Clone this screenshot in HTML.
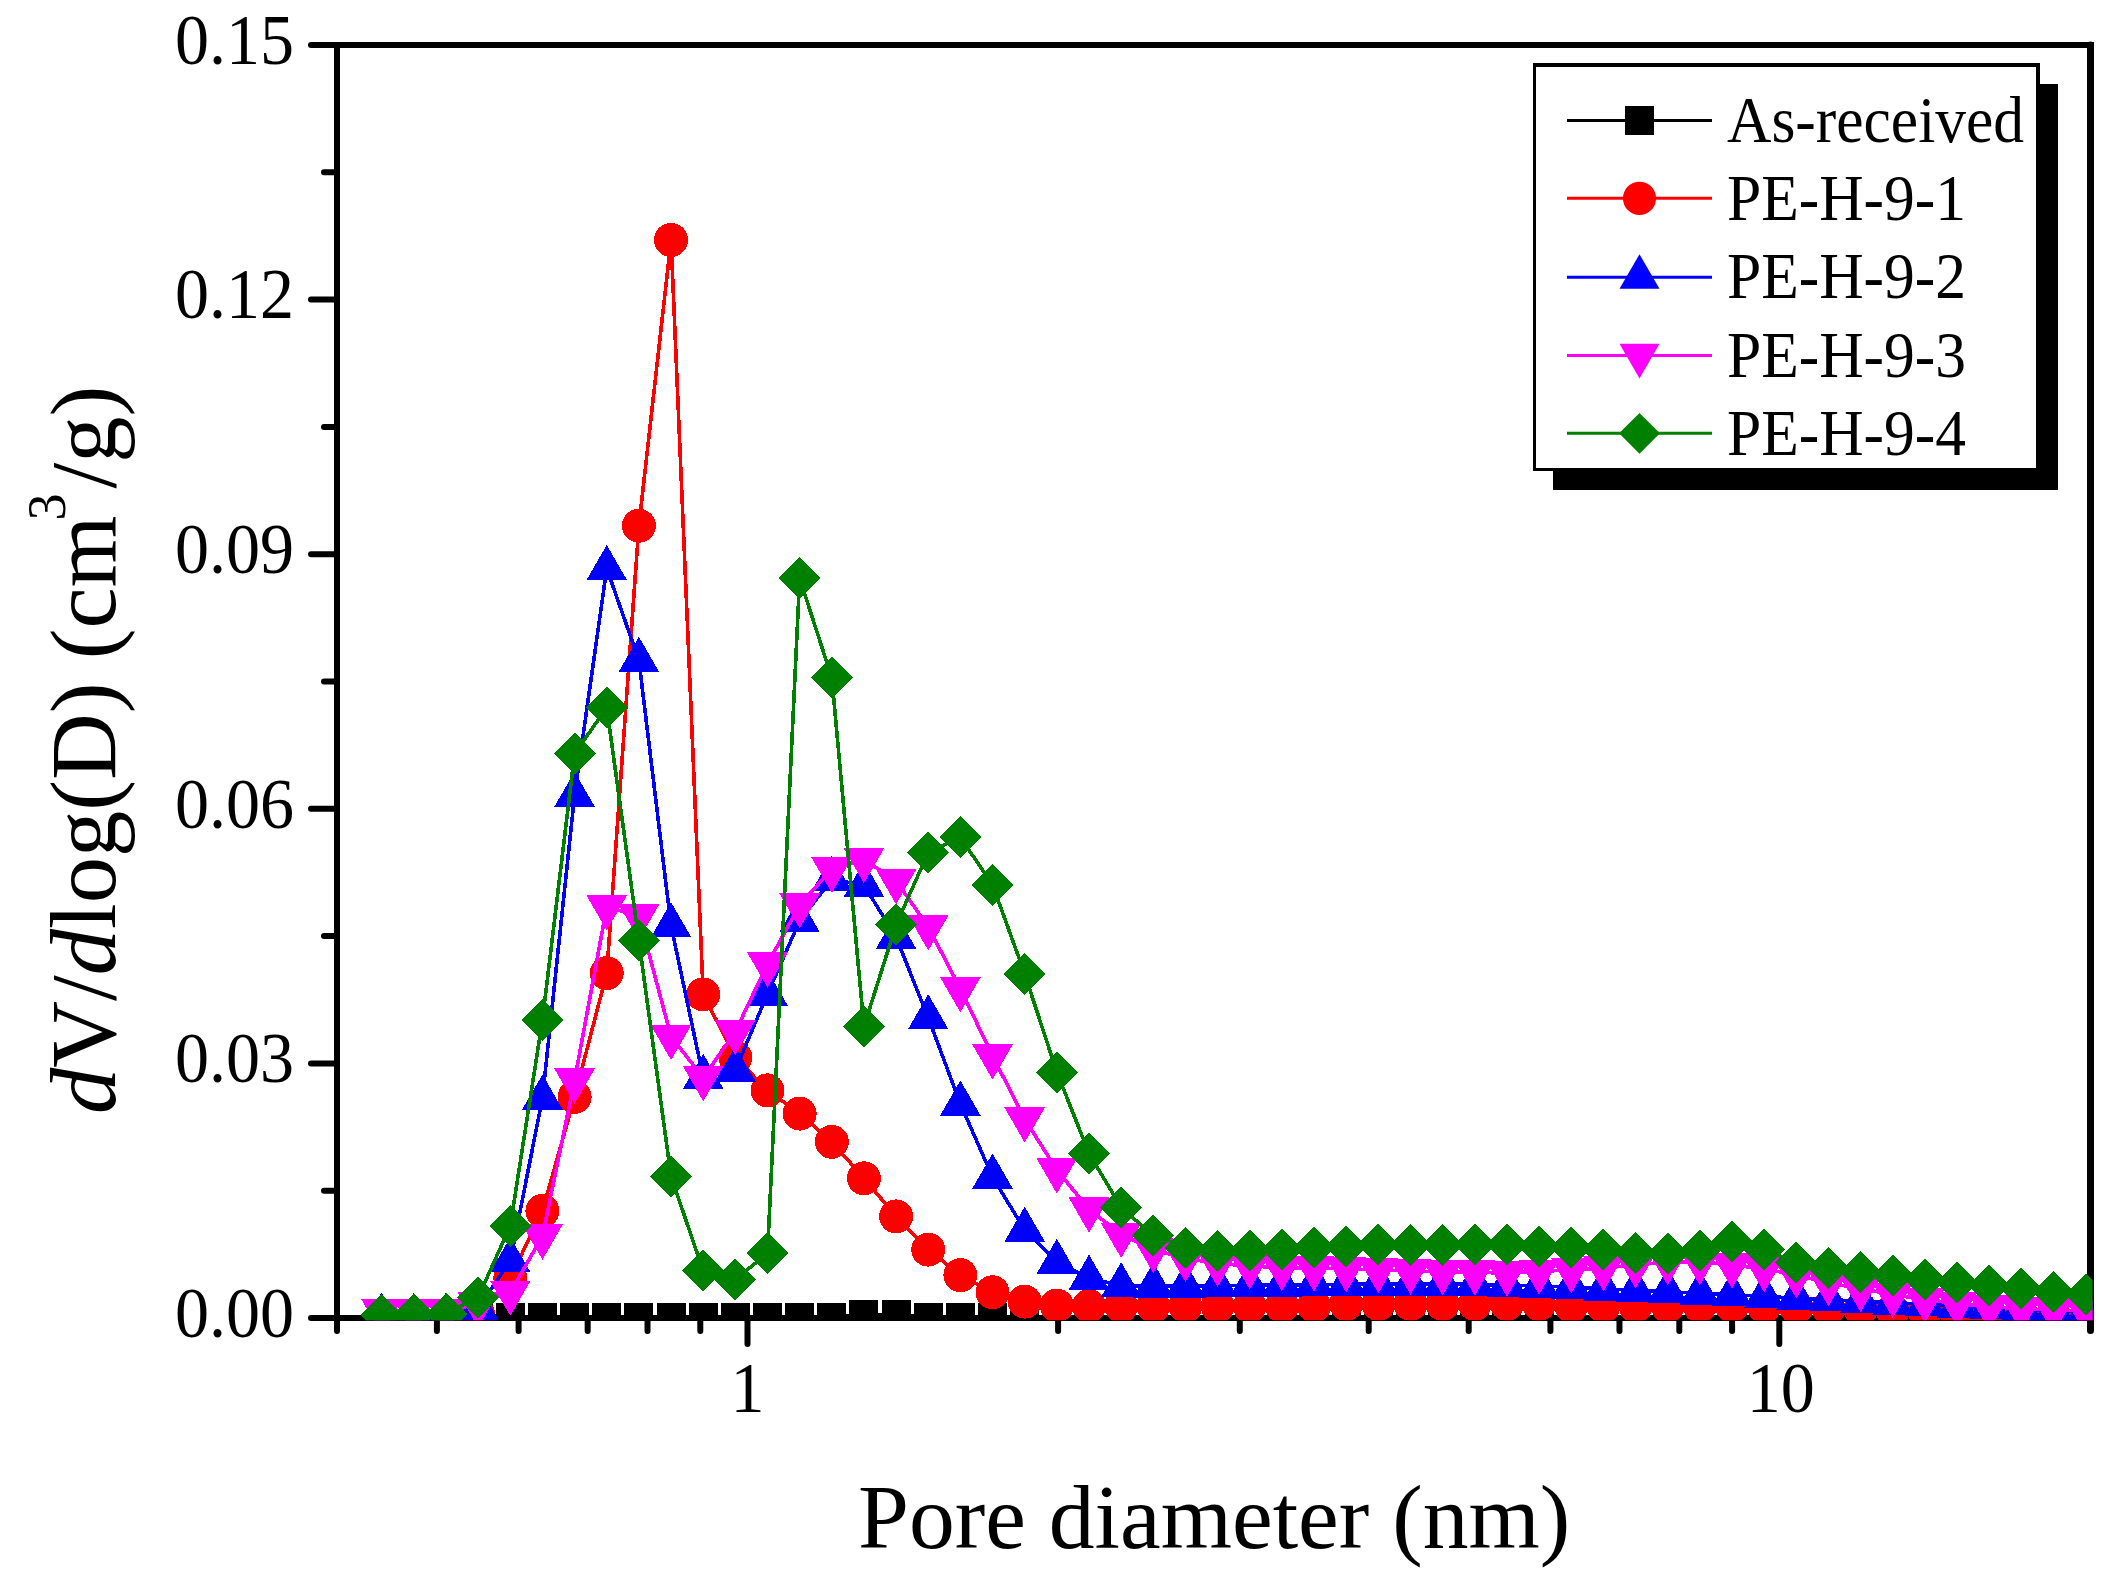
<!DOCTYPE html>
<html lang="en"><head><meta charset="utf-8"><title>Pore size distribution</title>
<style>html,body{margin:0;padding:0;background:#fff}body{width:2124px;height:1588px;overflow:hidden}svg{display:block}text{font-family:"Liberation Serif",serif;fill:#000}</style></head><body>
<svg width="2124" height="1588" viewBox="0 0 2124 1588">
<rect x="0" y="0" width="2124" height="1588" fill="#fff"/>
<g stroke="#000" stroke-width="6" stroke-linecap="round" fill="none">
<line x1="337" y1="45" x2="337" y2="1331"/>
<line x1="2090.5" y1="45" x2="2090.5" y2="1330.5" stroke-width="7"/>
<rect x="2087" y="42" width="7" height="6" fill="#000" stroke="none"/>
<line x1="311" y1="45" x2="2090.5" y2="45"/>
<line x1="311" y1="1318" x2="2090.5" y2="1318"/>
<line x1="324" y1="1190.7" x2="337" y2="1190.7"/>
<line x1="311" y1="1063.4" x2="337" y2="1063.4"/>
<line x1="324" y1="936.1" x2="337" y2="936.1"/>
<line x1="311" y1="808.8" x2="337" y2="808.8"/>
<line x1="324" y1="681.5" x2="337" y2="681.5"/>
<line x1="311" y1="554.2" x2="337" y2="554.2"/>
<line x1="324" y1="426.9" x2="337" y2="426.9"/>
<line x1="311" y1="299.6" x2="337" y2="299.6"/>
<line x1="324" y1="172.3" x2="337" y2="172.3"/>
<line x1="436.9" y1="1318" x2="436.9" y2="1331"/>
<line x1="518.6" y1="1318" x2="518.6" y2="1331"/>
<line x1="587.67" y1="1318" x2="587.67" y2="1331"/>
<line x1="647.51" y1="1318" x2="647.51" y2="1331"/>
<line x1="700.29" y1="1318" x2="700.29" y2="1331"/>
<line x1="1058.1" y1="1318" x2="1058.1" y2="1331"/>
<line x1="1239.79" y1="1318" x2="1239.79" y2="1331"/>
<line x1="1368.71" y1="1318" x2="1368.71" y2="1331"/>
<line x1="1468.7" y1="1318" x2="1468.7" y2="1331"/>
<line x1="1550.4" y1="1318" x2="1550.4" y2="1331"/>
<line x1="1619.47" y1="1318" x2="1619.47" y2="1331"/>
<line x1="1679.31" y1="1318" x2="1679.31" y2="1331"/>
<line x1="1732.09" y1="1318" x2="1732.09" y2="1331"/>
<line x1="747.5" y1="1318" x2="747.5" y2="1344"/>
<line x1="1779.3" y1="1318" x2="1779.3" y2="1344"/>
</g>
<g font-size="72.4" text-anchor="end">
<text transform="translate(294,1336.8) scale(0.94,1)">0.00</text>
<text transform="translate(294,1082.2) scale(0.94,1)">0.03</text>
<text transform="translate(294,827.6) scale(0.94,1)">0.06</text>
<text transform="translate(294,573) scale(0.94,1)">0.09</text>
<text transform="translate(294,318.4) scale(0.94,1)">0.12</text>
<text transform="translate(294,63.8) scale(0.94,1)">0.15</text>
</g>
<g font-size="72.4" text-anchor="middle">
<text transform="translate(747.5,1412) scale(0.94,1)">1</text>
<text transform="translate(1780.8,1412) scale(0.94,1)">10</text>
</g>
<text transform="translate(858,1547.5) scale(1.018,1)" font-size="90">Pore diameter (nm)</text>
<text transform="translate(115,1114) rotate(-90)" font-size="92.5"><tspan font-style="italic">d</tspan>V/<tspan font-style="italic">d</tspan>log(D) (cm<tspan font-size="54" dx="-5" dy="-50">3</tspan><tspan dx="5" dy="50">/g)</tspan></text>
<clipPath id="pc"><rect x="334" y="42" width="1758.5" height="1278.3"/></clipPath>
<g clip-path="url(#pc)" shape-rendering="crispEdges">
<polyline points="381.7,1317.5 413.85,1317.5 446,1317.5 478.15,1317.5 510.3,1317.5 542.45,1317.5 574.6,1317.5 606.75,1317.5 638.9,1317.5 671.05,1317.5 703.2,1317.5 735.35,1317.5 767.5,1317.5 799.65,1317.5 831.8,1317.5 863.95,1314.5 896.1,1314.5 928.25,1317.5 960.4,1317.5 992.55,1317.5 1024.7,1317.5 1056.85,1317.5 1089,1317.5 1121.15,1317.5 1153.3,1317.5 1185.45,1317.5 1217.6,1317.5 1249.75,1317.5 1281.9,1317.5 1314.05,1317.5 1346.2,1317.5 1378.35,1317.5 1410.5,1317.5 1442.65,1317.5 1474.8,1317.5 1506.95,1317.5 1539.1,1317.5 1571.25,1317.5 1603.4,1317.5 1635.55,1317.5 1667.7,1317.5 1699.85,1317.5 1732,1317.5 1764.15,1317.5 1796.3,1317.5 1828.45,1317.5 1860.6,1317.5 1892.75,1317.5 1924.9,1317.5 1957.05,1317.5 1989.2,1317.5 2021.35,1317.5 2053.5,1317.5 2085.65,1317.5" fill="none" stroke="#000000" stroke-width="3.6" stroke-linejoin="round"/>
<rect x="367.2" y="1303" width="29" height="29" fill="#000000"/>
<rect x="399.35" y="1303" width="29" height="29" fill="#000000"/>
<rect x="431.5" y="1303" width="29" height="29" fill="#000000"/>
<rect x="463.65" y="1303" width="29" height="29" fill="#000000"/>
<rect x="495.8" y="1303" width="29" height="29" fill="#000000"/>
<rect x="527.95" y="1303" width="29" height="29" fill="#000000"/>
<rect x="560.1" y="1303" width="29" height="29" fill="#000000"/>
<rect x="592.25" y="1303" width="29" height="29" fill="#000000"/>
<rect x="624.4" y="1303" width="29" height="29" fill="#000000"/>
<rect x="656.55" y="1303" width="29" height="29" fill="#000000"/>
<rect x="688.7" y="1303" width="29" height="29" fill="#000000"/>
<rect x="720.85" y="1303" width="29" height="29" fill="#000000"/>
<rect x="753" y="1303" width="29" height="29" fill="#000000"/>
<rect x="785.15" y="1303" width="29" height="29" fill="#000000"/>
<rect x="817.3" y="1303" width="29" height="29" fill="#000000"/>
<rect x="849.45" y="1300" width="29" height="29" fill="#000000"/>
<rect x="881.6" y="1300" width="29" height="29" fill="#000000"/>
<rect x="913.75" y="1303" width="29" height="29" fill="#000000"/>
<rect x="945.9" y="1303" width="29" height="29" fill="#000000"/>
<rect x="978.05" y="1303" width="29" height="29" fill="#000000"/>
<rect x="1010.2" y="1303" width="29" height="29" fill="#000000"/>
<rect x="1042.35" y="1303" width="29" height="29" fill="#000000"/>
<rect x="1074.5" y="1303" width="29" height="29" fill="#000000"/>
<rect x="1106.65" y="1303" width="29" height="29" fill="#000000"/>
<rect x="1138.8" y="1303" width="29" height="29" fill="#000000"/>
<rect x="1170.95" y="1303" width="29" height="29" fill="#000000"/>
<rect x="1203.1" y="1303" width="29" height="29" fill="#000000"/>
<rect x="1235.25" y="1303" width="29" height="29" fill="#000000"/>
<rect x="1267.4" y="1303" width="29" height="29" fill="#000000"/>
<rect x="1299.55" y="1303" width="29" height="29" fill="#000000"/>
<rect x="1331.7" y="1303" width="29" height="29" fill="#000000"/>
<rect x="1363.85" y="1303" width="29" height="29" fill="#000000"/>
<rect x="1396" y="1303" width="29" height="29" fill="#000000"/>
<rect x="1428.15" y="1303" width="29" height="29" fill="#000000"/>
<rect x="1460.3" y="1303" width="29" height="29" fill="#000000"/>
<rect x="1492.45" y="1303" width="29" height="29" fill="#000000"/>
<rect x="1524.6" y="1303" width="29" height="29" fill="#000000"/>
<rect x="1556.75" y="1303" width="29" height="29" fill="#000000"/>
<rect x="1588.9" y="1303" width="29" height="29" fill="#000000"/>
<rect x="1621.05" y="1303" width="29" height="29" fill="#000000"/>
<rect x="1653.2" y="1303" width="29" height="29" fill="#000000"/>
<rect x="1685.35" y="1303" width="29" height="29" fill="#000000"/>
<rect x="1717.5" y="1303" width="29" height="29" fill="#000000"/>
<rect x="1749.65" y="1303" width="29" height="29" fill="#000000"/>
<rect x="1781.8" y="1303" width="29" height="29" fill="#000000"/>
<rect x="1813.95" y="1303" width="29" height="29" fill="#000000"/>
<rect x="1846.1" y="1303" width="29" height="29" fill="#000000"/>
<rect x="1878.25" y="1303" width="29" height="29" fill="#000000"/>
<rect x="1910.4" y="1303" width="29" height="29" fill="#000000"/>
<rect x="1942.55" y="1303" width="29" height="29" fill="#000000"/>
<rect x="1974.7" y="1303" width="29" height="29" fill="#000000"/>
<rect x="2006.85" y="1303" width="29" height="29" fill="#000000"/>
<rect x="2039" y="1303" width="29" height="29" fill="#000000"/>
<rect x="2071.15" y="1303" width="29" height="29" fill="#000000"/>
<polyline points="381.7,1316 413.85,1316 446,1316 478.15,1314 510.3,1278 542.45,1210.9 574.6,1096.8 606.75,973.2 638.9,525.7 671.05,239.9 703.2,994.4 735.35,1057.4 767.5,1090.4 799.65,1113.6 831.8,1141.8 863.95,1178.3 896.1,1216.4 928.25,1249.6 960.4,1275.2 992.55,1292.3 1024.7,1301.6 1056.85,1305.5 1089,1306 1121.15,1306 1153.3,1306 1185.45,1306 1217.6,1306 1249.75,1306 1281.9,1306 1314.05,1306 1346.2,1304 1378.35,1304 1410.5,1304 1442.65,1304 1474.8,1304 1506.95,1304 1539.1,1304 1571.25,1306 1603.4,1306 1635.55,1306 1667.7,1306 1699.85,1306 1732,1306 1764.15,1306.5 1796.3,1307.3 1828.45,1308.3 1860.6,1309.5 1892.75,1310.8 1924.9,1311.9 1957.05,1312.7 1989.2,1313.8 2021.35,1315 2053.5,1316 2085.65,1317" fill="none" stroke="#ff0000" stroke-width="3.6" stroke-linejoin="round"/>
<circle cx="381.7" cy="1316" r="17" fill="#ff0000"/>
<circle cx="413.85" cy="1316" r="17" fill="#ff0000"/>
<circle cx="446" cy="1316" r="17" fill="#ff0000"/>
<circle cx="478.15" cy="1314" r="17" fill="#ff0000"/>
<circle cx="510.3" cy="1278" r="17" fill="#ff0000"/>
<circle cx="542.45" cy="1210.9" r="17" fill="#ff0000"/>
<circle cx="574.6" cy="1096.8" r="17" fill="#ff0000"/>
<circle cx="606.75" cy="973.2" r="17" fill="#ff0000"/>
<circle cx="638.9" cy="525.7" r="17" fill="#ff0000"/>
<circle cx="671.05" cy="239.9" r="17" fill="#ff0000"/>
<circle cx="703.2" cy="994.4" r="17" fill="#ff0000"/>
<circle cx="735.35" cy="1057.4" r="17" fill="#ff0000"/>
<circle cx="767.5" cy="1090.4" r="17" fill="#ff0000"/>
<circle cx="799.65" cy="1113.6" r="17" fill="#ff0000"/>
<circle cx="831.8" cy="1141.8" r="17" fill="#ff0000"/>
<circle cx="863.95" cy="1178.3" r="17" fill="#ff0000"/>
<circle cx="896.1" cy="1216.4" r="17" fill="#ff0000"/>
<circle cx="928.25" cy="1249.6" r="17" fill="#ff0000"/>
<circle cx="960.4" cy="1275.2" r="17" fill="#ff0000"/>
<circle cx="992.55" cy="1292.3" r="17" fill="#ff0000"/>
<circle cx="1024.7" cy="1301.6" r="17" fill="#ff0000"/>
<circle cx="1056.85" cy="1305.5" r="17" fill="#ff0000"/>
<circle cx="1089" cy="1306" r="17" fill="#ff0000"/>
<circle cx="1121.15" cy="1306" r="17" fill="#ff0000"/>
<circle cx="1153.3" cy="1306" r="17" fill="#ff0000"/>
<circle cx="1185.45" cy="1306" r="17" fill="#ff0000"/>
<circle cx="1217.6" cy="1306" r="17" fill="#ff0000"/>
<circle cx="1249.75" cy="1306" r="17" fill="#ff0000"/>
<circle cx="1281.9" cy="1306" r="17" fill="#ff0000"/>
<circle cx="1314.05" cy="1306" r="17" fill="#ff0000"/>
<circle cx="1346.2" cy="1304" r="17" fill="#ff0000"/>
<circle cx="1378.35" cy="1304" r="17" fill="#ff0000"/>
<circle cx="1410.5" cy="1304" r="17" fill="#ff0000"/>
<circle cx="1442.65" cy="1304" r="17" fill="#ff0000"/>
<circle cx="1474.8" cy="1304" r="17" fill="#ff0000"/>
<circle cx="1506.95" cy="1304" r="17" fill="#ff0000"/>
<circle cx="1539.1" cy="1304" r="17" fill="#ff0000"/>
<circle cx="1571.25" cy="1306" r="17" fill="#ff0000"/>
<circle cx="1603.4" cy="1306" r="17" fill="#ff0000"/>
<circle cx="1635.55" cy="1306" r="17" fill="#ff0000"/>
<circle cx="1667.7" cy="1306" r="17" fill="#ff0000"/>
<circle cx="1699.85" cy="1306" r="17" fill="#ff0000"/>
<circle cx="1732" cy="1306" r="17" fill="#ff0000"/>
<circle cx="1764.15" cy="1306.5" r="17" fill="#ff0000"/>
<circle cx="1796.3" cy="1307.3" r="17" fill="#ff0000"/>
<circle cx="1828.45" cy="1308.3" r="17" fill="#ff0000"/>
<circle cx="1860.6" cy="1309.5" r="17" fill="#ff0000"/>
<circle cx="1892.75" cy="1310.8" r="17" fill="#ff0000"/>
<circle cx="1924.9" cy="1311.9" r="17" fill="#ff0000"/>
<circle cx="1957.05" cy="1312.7" r="17" fill="#ff0000"/>
<circle cx="1989.2" cy="1313.8" r="17" fill="#ff0000"/>
<circle cx="2021.35" cy="1315" r="17" fill="#ff0000"/>
<circle cx="2053.5" cy="1316" r="17" fill="#ff0000"/>
<circle cx="2085.65" cy="1317" r="17" fill="#ff0000"/>
<polyline points="381.7,1316 413.85,1316 446,1316 478.15,1308 510.3,1260.7 542.45,1098 574.6,795.2 606.75,568.5 638.9,660.3 671.05,925.7 703.2,1077.3 735.35,1069.8 767.5,994 799.65,920.7 831.8,879.5 863.95,885.2 896.1,937.3 928.25,1017.7 960.4,1104 992.55,1177 1024.7,1230.1 1056.85,1262.2 1089,1278.1 1121.15,1285.6 1153.3,1286 1185.45,1286 1217.6,1285.7 1249.75,1285.3 1281.9,1285 1314.05,1284.6 1346.2,1284.2 1378.35,1284 1410.5,1284 1442.65,1284 1474.8,1284.5 1506.95,1285.2 1539.1,1286 1571.25,1287.2 1603.4,1288.8 1635.55,1290.4 1667.7,1291.7 1699.85,1293.5 1732,1294.7 1764.15,1296.5 1796.3,1298 1828.45,1299.6 1860.6,1301.2 1892.75,1302.8 1924.9,1304.4 1957.05,1306 1989.2,1307.5 2021.35,1309 2053.5,1310.5 2085.65,1312" fill="none" stroke="#0000ff" stroke-width="3.6" stroke-linejoin="round"/>
<polygon points="381.7,1292.44 361.3,1327.78 402.1,1327.78" fill="#0000ff"/>
<polygon points="413.85,1292.44 393.45,1327.78 434.25,1327.78" fill="#0000ff"/>
<polygon points="446,1292.44 425.6,1327.78 466.4,1327.78" fill="#0000ff"/>
<polygon points="478.15,1284.44 457.75,1319.78 498.55,1319.78" fill="#0000ff"/>
<polygon points="510.3,1237.14 489.9,1272.48 530.7,1272.48" fill="#0000ff"/>
<polygon points="542.45,1074.44 522.05,1109.78 562.85,1109.78" fill="#0000ff"/>
<polygon points="574.6,771.64 554.2,806.98 595,806.98" fill="#0000ff"/>
<polygon points="606.75,544.94 586.35,580.28 627.15,580.28" fill="#0000ff"/>
<polygon points="638.9,636.74 618.5,672.08 659.3,672.08" fill="#0000ff"/>
<polygon points="671.05,902.14 650.65,937.48 691.45,937.48" fill="#0000ff"/>
<polygon points="703.2,1053.74 682.8,1089.08 723.6,1089.08" fill="#0000ff"/>
<polygon points="735.35,1046.24 714.95,1081.58 755.75,1081.58" fill="#0000ff"/>
<polygon points="767.5,970.44 747.1,1005.78 787.9,1005.78" fill="#0000ff"/>
<polygon points="799.65,897.14 779.25,932.48 820.05,932.48" fill="#0000ff"/>
<polygon points="831.8,855.94 811.4,891.28 852.2,891.28" fill="#0000ff"/>
<polygon points="863.95,861.64 843.55,896.98 884.35,896.98" fill="#0000ff"/>
<polygon points="896.1,913.74 875.7,949.08 916.5,949.08" fill="#0000ff"/>
<polygon points="928.25,994.14 907.85,1029.48 948.65,1029.48" fill="#0000ff"/>
<polygon points="960.4,1080.44 940,1115.78 980.8,1115.78" fill="#0000ff"/>
<polygon points="992.55,1153.44 972.15,1188.78 1012.95,1188.78" fill="#0000ff"/>
<polygon points="1024.7,1206.54 1004.3,1241.88 1045.1,1241.88" fill="#0000ff"/>
<polygon points="1056.85,1238.64 1036.45,1273.98 1077.25,1273.98" fill="#0000ff"/>
<polygon points="1089,1254.54 1068.6,1289.88 1109.4,1289.88" fill="#0000ff"/>
<polygon points="1121.15,1262.04 1100.75,1297.38 1141.55,1297.38" fill="#0000ff"/>
<polygon points="1153.3,1262.44 1132.9,1297.78 1173.7,1297.78" fill="#0000ff"/>
<polygon points="1185.45,1262.44 1165.05,1297.78 1205.85,1297.78" fill="#0000ff"/>
<polygon points="1217.6,1262.14 1197.2,1297.48 1238,1297.48" fill="#0000ff"/>
<polygon points="1249.75,1261.74 1229.35,1297.08 1270.15,1297.08" fill="#0000ff"/>
<polygon points="1281.9,1261.44 1261.5,1296.78 1302.3,1296.78" fill="#0000ff"/>
<polygon points="1314.05,1261.04 1293.65,1296.38 1334.45,1296.38" fill="#0000ff"/>
<polygon points="1346.2,1260.64 1325.8,1295.98 1366.6,1295.98" fill="#0000ff"/>
<polygon points="1378.35,1260.44 1357.95,1295.78 1398.75,1295.78" fill="#0000ff"/>
<polygon points="1410.5,1260.44 1390.1,1295.78 1430.9,1295.78" fill="#0000ff"/>
<polygon points="1442.65,1260.44 1422.25,1295.78 1463.05,1295.78" fill="#0000ff"/>
<polygon points="1474.8,1260.94 1454.4,1296.28 1495.2,1296.28" fill="#0000ff"/>
<polygon points="1506.95,1261.64 1486.55,1296.98 1527.35,1296.98" fill="#0000ff"/>
<polygon points="1539.1,1262.44 1518.7,1297.78 1559.5,1297.78" fill="#0000ff"/>
<polygon points="1571.25,1263.64 1550.85,1298.98 1591.65,1298.98" fill="#0000ff"/>
<polygon points="1603.4,1265.24 1583,1300.58 1623.8,1300.58" fill="#0000ff"/>
<polygon points="1635.55,1266.84 1615.15,1302.18 1655.95,1302.18" fill="#0000ff"/>
<polygon points="1667.7,1268.14 1647.3,1303.48 1688.1,1303.48" fill="#0000ff"/>
<polygon points="1699.85,1269.94 1679.45,1305.28 1720.25,1305.28" fill="#0000ff"/>
<polygon points="1732,1271.14 1711.6,1306.48 1752.4,1306.48" fill="#0000ff"/>
<polygon points="1764.15,1272.94 1743.75,1308.28 1784.55,1308.28" fill="#0000ff"/>
<polygon points="1796.3,1274.44 1775.9,1309.78 1816.7,1309.78" fill="#0000ff"/>
<polygon points="1828.45,1276.04 1808.05,1311.38 1848.85,1311.38" fill="#0000ff"/>
<polygon points="1860.6,1277.64 1840.2,1312.98 1881,1312.98" fill="#0000ff"/>
<polygon points="1892.75,1279.24 1872.35,1314.58 1913.15,1314.58" fill="#0000ff"/>
<polygon points="1924.9,1280.84 1904.5,1316.18 1945.3,1316.18" fill="#0000ff"/>
<polygon points="1957.05,1282.44 1936.65,1317.78 1977.45,1317.78" fill="#0000ff"/>
<polygon points="1989.2,1283.94 1968.8,1319.28 2009.6,1319.28" fill="#0000ff"/>
<polygon points="2021.35,1285.44 2000.95,1320.78 2041.75,1320.78" fill="#0000ff"/>
<polygon points="2053.5,1286.94 2033.1,1322.28 2073.9,1322.28" fill="#0000ff"/>
<polygon points="2085.65,1288.44 2065.25,1323.78 2106.05,1323.78" fill="#0000ff"/>
<polyline points="381.7,1311 413.85,1311 446,1311 478.15,1304 510.3,1292.3 542.45,1236.2 574.6,1080.2 606.75,906.9 638.9,916.1 671.05,1036.6 703.2,1077.7 735.35,1031.6 767.5,964.1 799.65,904.9 831.8,869.2 863.95,859.8 896.1,880.8 928.25,926.9 960.4,988.8 992.55,1056 1024.7,1119 1056.85,1170 1089,1209.2 1121.15,1234.5 1153.3,1249.6 1185.45,1258.5 1217.6,1263.5 1249.75,1266 1281.9,1267.7 1314.05,1268.1 1346.2,1268.9 1378.35,1269.8 1410.5,1271 1442.65,1272 1474.8,1272.2 1506.95,1273.2 1539.1,1271.3 1571.25,1270 1603.4,1267.9 1635.55,1265 1667.7,1261.9 1699.85,1261.9 1732,1265 1764.15,1268.9 1796.3,1275 1828.45,1283 1860.6,1288.7 1892.75,1294.6 1924.9,1299.5 1957.05,1303.5 1989.2,1306.7 2021.35,1308.8 2053.5,1310.1 2085.65,1311" fill="none" stroke="#ff00ff" stroke-width="3.6" stroke-linejoin="round"/>
<polygon points="381.7,1334.56 361.3,1299.22 402.1,1299.22" fill="#ff00ff"/>
<polygon points="413.85,1334.56 393.45,1299.22 434.25,1299.22" fill="#ff00ff"/>
<polygon points="446,1334.56 425.6,1299.22 466.4,1299.22" fill="#ff00ff"/>
<polygon points="478.15,1327.56 457.75,1292.22 498.55,1292.22" fill="#ff00ff"/>
<polygon points="510.3,1315.86 489.9,1280.52 530.7,1280.52" fill="#ff00ff"/>
<polygon points="542.45,1259.76 522.05,1224.42 562.85,1224.42" fill="#ff00ff"/>
<polygon points="574.6,1103.76 554.2,1068.42 595,1068.42" fill="#ff00ff"/>
<polygon points="606.75,930.46 586.35,895.12 627.15,895.12" fill="#ff00ff"/>
<polygon points="638.9,939.66 618.5,904.32 659.3,904.32" fill="#ff00ff"/>
<polygon points="671.05,1060.16 650.65,1024.82 691.45,1024.82" fill="#ff00ff"/>
<polygon points="703.2,1101.26 682.8,1065.92 723.6,1065.92" fill="#ff00ff"/>
<polygon points="735.35,1055.16 714.95,1019.82 755.75,1019.82" fill="#ff00ff"/>
<polygon points="767.5,987.66 747.1,952.32 787.9,952.32" fill="#ff00ff"/>
<polygon points="799.65,928.46 779.25,893.12 820.05,893.12" fill="#ff00ff"/>
<polygon points="831.8,892.76 811.4,857.42 852.2,857.42" fill="#ff00ff"/>
<polygon points="863.95,883.36 843.55,848.02 884.35,848.02" fill="#ff00ff"/>
<polygon points="896.1,904.36 875.7,869.02 916.5,869.02" fill="#ff00ff"/>
<polygon points="928.25,950.46 907.85,915.12 948.65,915.12" fill="#ff00ff"/>
<polygon points="960.4,1012.36 940,977.02 980.8,977.02" fill="#ff00ff"/>
<polygon points="992.55,1079.56 972.15,1044.22 1012.95,1044.22" fill="#ff00ff"/>
<polygon points="1024.7,1142.56 1004.3,1107.22 1045.1,1107.22" fill="#ff00ff"/>
<polygon points="1056.85,1193.56 1036.45,1158.22 1077.25,1158.22" fill="#ff00ff"/>
<polygon points="1089,1232.76 1068.6,1197.42 1109.4,1197.42" fill="#ff00ff"/>
<polygon points="1121.15,1258.06 1100.75,1222.72 1141.55,1222.72" fill="#ff00ff"/>
<polygon points="1153.3,1273.16 1132.9,1237.82 1173.7,1237.82" fill="#ff00ff"/>
<polygon points="1185.45,1282.06 1165.05,1246.72 1205.85,1246.72" fill="#ff00ff"/>
<polygon points="1217.6,1287.06 1197.2,1251.72 1238,1251.72" fill="#ff00ff"/>
<polygon points="1249.75,1289.56 1229.35,1254.22 1270.15,1254.22" fill="#ff00ff"/>
<polygon points="1281.9,1291.26 1261.5,1255.92 1302.3,1255.92" fill="#ff00ff"/>
<polygon points="1314.05,1291.66 1293.65,1256.32 1334.45,1256.32" fill="#ff00ff"/>
<polygon points="1346.2,1292.46 1325.8,1257.12 1366.6,1257.12" fill="#ff00ff"/>
<polygon points="1378.35,1293.36 1357.95,1258.02 1398.75,1258.02" fill="#ff00ff"/>
<polygon points="1410.5,1294.56 1390.1,1259.22 1430.9,1259.22" fill="#ff00ff"/>
<polygon points="1442.65,1295.56 1422.25,1260.22 1463.05,1260.22" fill="#ff00ff"/>
<polygon points="1474.8,1295.76 1454.4,1260.42 1495.2,1260.42" fill="#ff00ff"/>
<polygon points="1506.95,1296.76 1486.55,1261.42 1527.35,1261.42" fill="#ff00ff"/>
<polygon points="1539.1,1294.86 1518.7,1259.52 1559.5,1259.52" fill="#ff00ff"/>
<polygon points="1571.25,1293.56 1550.85,1258.22 1591.65,1258.22" fill="#ff00ff"/>
<polygon points="1603.4,1291.46 1583,1256.12 1623.8,1256.12" fill="#ff00ff"/>
<polygon points="1635.55,1288.56 1615.15,1253.22 1655.95,1253.22" fill="#ff00ff"/>
<polygon points="1667.7,1285.46 1647.3,1250.12 1688.1,1250.12" fill="#ff00ff"/>
<polygon points="1699.85,1285.46 1679.45,1250.12 1720.25,1250.12" fill="#ff00ff"/>
<polygon points="1732,1288.56 1711.6,1253.22 1752.4,1253.22" fill="#ff00ff"/>
<polygon points="1764.15,1292.46 1743.75,1257.12 1784.55,1257.12" fill="#ff00ff"/>
<polygon points="1796.3,1298.56 1775.9,1263.22 1816.7,1263.22" fill="#ff00ff"/>
<polygon points="1828.45,1306.56 1808.05,1271.22 1848.85,1271.22" fill="#ff00ff"/>
<polygon points="1860.6,1312.26 1840.2,1276.92 1881,1276.92" fill="#ff00ff"/>
<polygon points="1892.75,1318.16 1872.35,1282.82 1913.15,1282.82" fill="#ff00ff"/>
<polygon points="1924.9,1323.06 1904.5,1287.72 1945.3,1287.72" fill="#ff00ff"/>
<polygon points="1957.05,1327.06 1936.65,1291.72 1977.45,1291.72" fill="#ff00ff"/>
<polygon points="1989.2,1330.26 1968.8,1294.92 2009.6,1294.92" fill="#ff00ff"/>
<polygon points="2021.35,1332.36 2000.95,1297.02 2041.75,1297.02" fill="#ff00ff"/>
<polygon points="2053.5,1333.66 2033.1,1298.32 2073.9,1298.32" fill="#ff00ff"/>
<polygon points="2085.65,1334.56 2065.25,1299.22 2106.05,1299.22" fill="#ff00ff"/>
<polyline points="381.7,1314.8 413.85,1314.8 446,1314 478.15,1297.4 510.3,1225.8 542.45,1020 574.6,753.6 606.75,707.6 638.9,940.7 671.05,1176.7 703.2,1270.7 735.35,1279.5 767.5,1253.3 799.65,578.3 831.8,677.8 863.95,1026.5 896.1,924.7 928.25,852.4 960.4,837.4 992.55,884.8 1024.7,973.9 1056.85,1072.3 1089,1153.3 1121.15,1207.6 1153.3,1235.5 1185.45,1247.6 1217.6,1250.8 1249.75,1250.7 1281.9,1249.2 1314.05,1247.4 1346.2,1246.5 1378.35,1244.5 1410.5,1244.8 1442.65,1244.8 1474.8,1244.8 1506.95,1244.8 1539.1,1246.6 1571.25,1247.3 1603.4,1249.5 1635.55,1252.6 1667.7,1253.6 1699.85,1250.4 1732,1241.4 1764.15,1249.5 1796.3,1262.5 1828.45,1268.3 1860.6,1272.4 1892.75,1275.6 1924.9,1279.6 1957.05,1282.7 1989.2,1285.5 2021.35,1288.4 2053.5,1291.6 2085.65,1294.5" fill="none" stroke="#008000" stroke-width="3.6" stroke-linejoin="round"/>
<polygon points="381.7,1293.8 402.7,1314.8 381.7,1335.8 360.7,1314.8" fill="#008000"/>
<polygon points="413.85,1293.8 434.85,1314.8 413.85,1335.8 392.85,1314.8" fill="#008000"/>
<polygon points="446,1293 467,1314 446,1335 425,1314" fill="#008000"/>
<polygon points="478.15,1276.4 499.15,1297.4 478.15,1318.4 457.15,1297.4" fill="#008000"/>
<polygon points="510.3,1204.8 531.3,1225.8 510.3,1246.8 489.3,1225.8" fill="#008000"/>
<polygon points="542.45,999 563.45,1020 542.45,1041 521.45,1020" fill="#008000"/>
<polygon points="574.6,732.6 595.6,753.6 574.6,774.6 553.6,753.6" fill="#008000"/>
<polygon points="606.75,686.6 627.75,707.6 606.75,728.6 585.75,707.6" fill="#008000"/>
<polygon points="638.9,919.7 659.9,940.7 638.9,961.7 617.9,940.7" fill="#008000"/>
<polygon points="671.05,1155.7 692.05,1176.7 671.05,1197.7 650.05,1176.7" fill="#008000"/>
<polygon points="703.2,1249.7 724.2,1270.7 703.2,1291.7 682.2,1270.7" fill="#008000"/>
<polygon points="735.35,1258.5 756.35,1279.5 735.35,1300.5 714.35,1279.5" fill="#008000"/>
<polygon points="767.5,1232.3 788.5,1253.3 767.5,1274.3 746.5,1253.3" fill="#008000"/>
<polygon points="799.65,557.3 820.65,578.3 799.65,599.3 778.65,578.3" fill="#008000"/>
<polygon points="831.8,656.8 852.8,677.8 831.8,698.8 810.8,677.8" fill="#008000"/>
<polygon points="863.95,1005.5 884.95,1026.5 863.95,1047.5 842.95,1026.5" fill="#008000"/>
<polygon points="896.1,903.7 917.1,924.7 896.1,945.7 875.1,924.7" fill="#008000"/>
<polygon points="928.25,831.4 949.25,852.4 928.25,873.4 907.25,852.4" fill="#008000"/>
<polygon points="960.4,816.4 981.4,837.4 960.4,858.4 939.4,837.4" fill="#008000"/>
<polygon points="992.55,863.8 1013.55,884.8 992.55,905.8 971.55,884.8" fill="#008000"/>
<polygon points="1024.7,952.9 1045.7,973.9 1024.7,994.9 1003.7,973.9" fill="#008000"/>
<polygon points="1056.85,1051.3 1077.85,1072.3 1056.85,1093.3 1035.85,1072.3" fill="#008000"/>
<polygon points="1089,1132.3 1110,1153.3 1089,1174.3 1068,1153.3" fill="#008000"/>
<polygon points="1121.15,1186.6 1142.15,1207.6 1121.15,1228.6 1100.15,1207.6" fill="#008000"/>
<polygon points="1153.3,1214.5 1174.3,1235.5 1153.3,1256.5 1132.3,1235.5" fill="#008000"/>
<polygon points="1185.45,1226.6 1206.45,1247.6 1185.45,1268.6 1164.45,1247.6" fill="#008000"/>
<polygon points="1217.6,1229.8 1238.6,1250.8 1217.6,1271.8 1196.6,1250.8" fill="#008000"/>
<polygon points="1249.75,1229.7 1270.75,1250.7 1249.75,1271.7 1228.75,1250.7" fill="#008000"/>
<polygon points="1281.9,1228.2 1302.9,1249.2 1281.9,1270.2 1260.9,1249.2" fill="#008000"/>
<polygon points="1314.05,1226.4 1335.05,1247.4 1314.05,1268.4 1293.05,1247.4" fill="#008000"/>
<polygon points="1346.2,1225.5 1367.2,1246.5 1346.2,1267.5 1325.2,1246.5" fill="#008000"/>
<polygon points="1378.35,1223.5 1399.35,1244.5 1378.35,1265.5 1357.35,1244.5" fill="#008000"/>
<polygon points="1410.5,1223.8 1431.5,1244.8 1410.5,1265.8 1389.5,1244.8" fill="#008000"/>
<polygon points="1442.65,1223.8 1463.65,1244.8 1442.65,1265.8 1421.65,1244.8" fill="#008000"/>
<polygon points="1474.8,1223.8 1495.8,1244.8 1474.8,1265.8 1453.8,1244.8" fill="#008000"/>
<polygon points="1506.95,1223.8 1527.95,1244.8 1506.95,1265.8 1485.95,1244.8" fill="#008000"/>
<polygon points="1539.1,1225.6 1560.1,1246.6 1539.1,1267.6 1518.1,1246.6" fill="#008000"/>
<polygon points="1571.25,1226.3 1592.25,1247.3 1571.25,1268.3 1550.25,1247.3" fill="#008000"/>
<polygon points="1603.4,1228.5 1624.4,1249.5 1603.4,1270.5 1582.4,1249.5" fill="#008000"/>
<polygon points="1635.55,1231.6 1656.55,1252.6 1635.55,1273.6 1614.55,1252.6" fill="#008000"/>
<polygon points="1667.7,1232.6 1688.7,1253.6 1667.7,1274.6 1646.7,1253.6" fill="#008000"/>
<polygon points="1699.85,1229.4 1720.85,1250.4 1699.85,1271.4 1678.85,1250.4" fill="#008000"/>
<polygon points="1732,1220.4 1753,1241.4 1732,1262.4 1711,1241.4" fill="#008000"/>
<polygon points="1764.15,1228.5 1785.15,1249.5 1764.15,1270.5 1743.15,1249.5" fill="#008000"/>
<polygon points="1796.3,1241.5 1817.3,1262.5 1796.3,1283.5 1775.3,1262.5" fill="#008000"/>
<polygon points="1828.45,1247.3 1849.45,1268.3 1828.45,1289.3 1807.45,1268.3" fill="#008000"/>
<polygon points="1860.6,1251.4 1881.6,1272.4 1860.6,1293.4 1839.6,1272.4" fill="#008000"/>
<polygon points="1892.75,1254.6 1913.75,1275.6 1892.75,1296.6 1871.75,1275.6" fill="#008000"/>
<polygon points="1924.9,1258.6 1945.9,1279.6 1924.9,1300.6 1903.9,1279.6" fill="#008000"/>
<polygon points="1957.05,1261.7 1978.05,1282.7 1957.05,1303.7 1936.05,1282.7" fill="#008000"/>
<polygon points="1989.2,1264.5 2010.2,1285.5 1989.2,1306.5 1968.2,1285.5" fill="#008000"/>
<polygon points="2021.35,1267.4 2042.35,1288.4 2021.35,1309.4 2000.35,1288.4" fill="#008000"/>
<polygon points="2053.5,1270.6 2074.5,1291.6 2053.5,1312.6 2032.5,1291.6" fill="#008000"/>
<polygon points="2085.65,1273.5 2106.65,1294.5 2085.65,1315.5 2064.65,1294.5" fill="#008000"/>
</g>
<rect x="1553" y="84" width="505" height="406" fill="#000"/>
<rect x="1533" y="63" width="507" height="408" fill="#000"/>
<rect x="1536" y="67" width="500" height="401" fill="#fff"/>
<line x1="1567" y1="120.5" x2="1712" y2="120.5" stroke="#000000" stroke-width="3"/>
<rect x="1625" y="106" width="29" height="29" fill="#000000"/>
<text transform="translate(1727,142.1) scale(0.952,1)" font-size="64.6">As-received</text>
<line x1="1567" y1="198.3" x2="1712" y2="198.3" stroke="#ff0000" stroke-width="3"/>
<circle cx="1639.5" cy="198.3" r="16.6" fill="#ff0000"/>
<text transform="translate(1727,220.2) scale(0.952,1)" font-size="64.6">PE-H-9-1</text>
<line x1="1567" y1="277.3" x2="1712" y2="277.3" stroke="#0000ff" stroke-width="3"/>
<polygon points="1639.5,254.21 1619.5,288.85 1659.5,288.85" fill="#0000ff"/>
<text transform="translate(1727,298.2) scale(0.952,1)" font-size="64.6">PE-H-9-2</text>
<line x1="1567" y1="355.4" x2="1712" y2="355.4" stroke="#ff00ff" stroke-width="3"/>
<polygon points="1639.5,378.49 1619.5,343.85 1659.5,343.85" fill="#ff00ff"/>
<text transform="translate(1727,376.5) scale(0.952,1)" font-size="64.6">PE-H-9-3</text>
<line x1="1567" y1="433.3" x2="1712" y2="433.3" stroke="#008000" stroke-width="3"/>
<polygon points="1639.5,412.9 1659.9,433.3 1639.5,453.7 1619.1,433.3" fill="#008000"/>
<text transform="translate(1727,454.9) scale(0.952,1)" font-size="64.6">PE-H-9-4</text>
</svg></body></html>
